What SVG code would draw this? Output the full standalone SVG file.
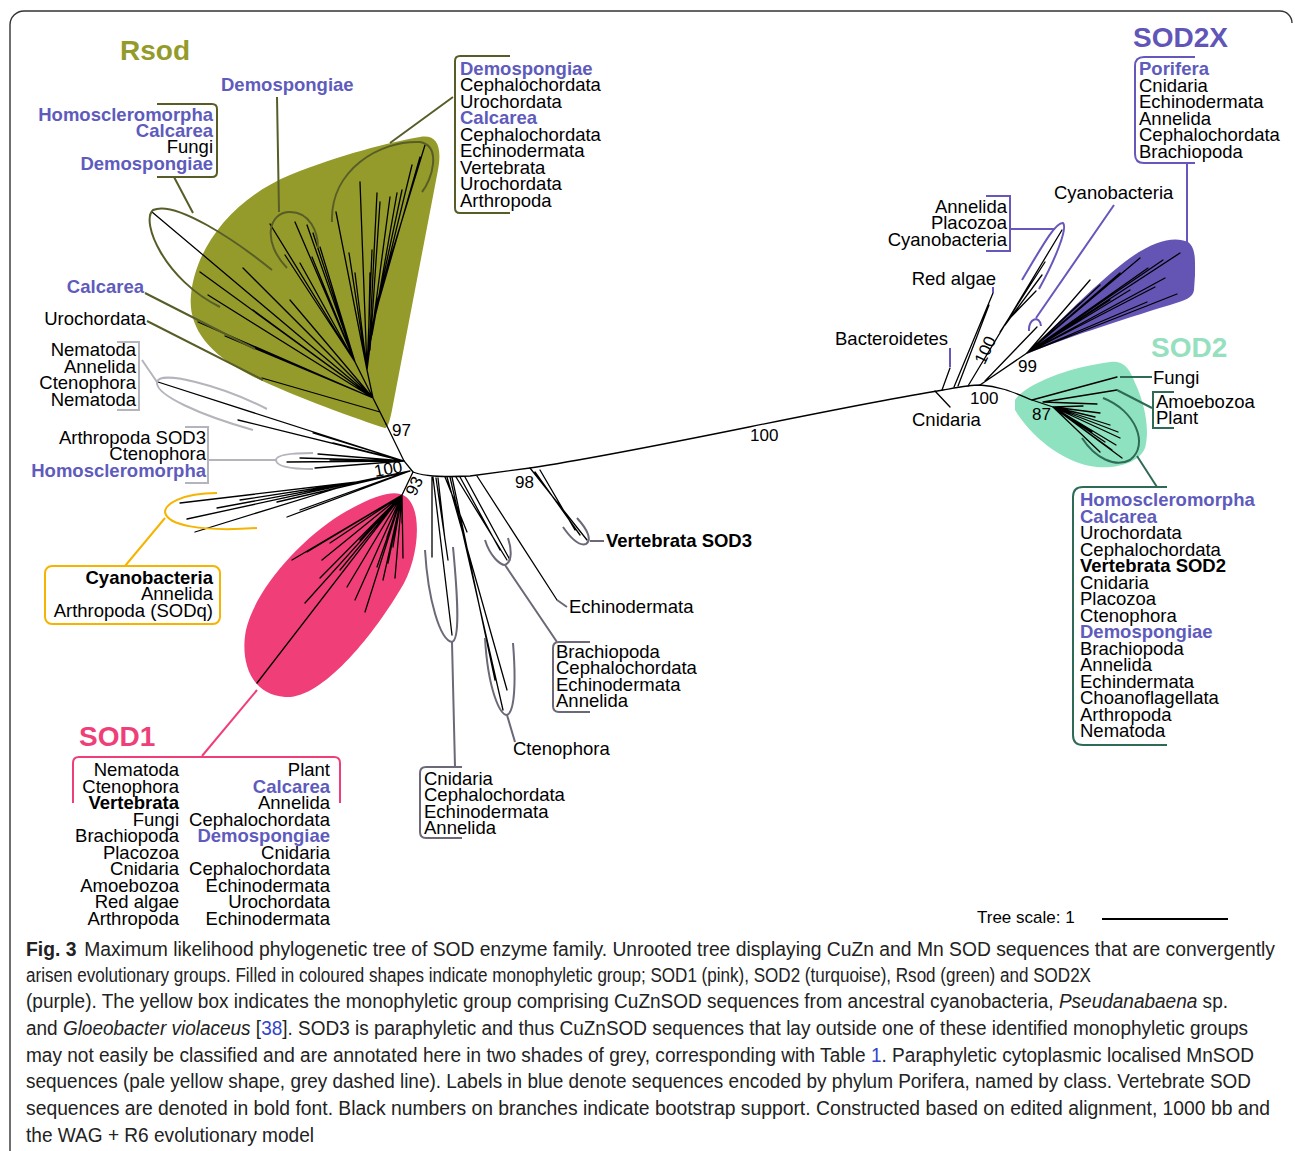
<svg xmlns="http://www.w3.org/2000/svg" width="1295" height="1151" viewBox="0 0 1295 1151">
<style>
.t{font-family:"Liberation Sans",Arial,sans-serif;font-size:18.5px;fill:#000}
.e{text-anchor:end}
.b{font-weight:bold}
.bl{fill:#5E5BBD;font-weight:bold}
.n{font-family:"Liberation Sans",Arial,sans-serif;font-size:17px;fill:#000}
.ttl{font-family:"Liberation Sans",Arial,sans-serif;font-size:28px;font-weight:bold}
.br{fill:none;stroke:#000;stroke-width:1.3;stroke-linecap:round}
.ol{fill:none;stroke:#585D28;stroke-width:2}
.lg{fill:none;stroke:#B4B4BC;stroke-width:2}
.dg{fill:none;stroke:#6C6878;stroke-width:2}
.pu{fill:none;stroke:#6557BC;stroke-width:2}
.gr{fill:none;stroke:#2F6A57;stroke-width:2}
.cap{font-family:"Liberation Sans Narrow","Liberation Sans",Arial,sans-serif;font-size:19.5px;fill:#222}
</style>
<rect width="1295" height="1151" fill="#fff"/>
<path d="M10,1151 V25 A14,14 0 0 1 24,11 H1280 A12,12 0 0 1 1292,23" fill="none" stroke="#333" stroke-width="1.4"/>

<!-- coloured clade shapes -->
<g id="rsod-shape"><path d="M385,428 C360,420 290,395 250,375 C205,352 188,325 191,295 C195,250 230,200 290,175 C340,155 390,142 420,137 C438,134 442,148 438,170 L392,410 C390,420 388,428 385,428 Z" fill="#949B2B"/></g>
<g id="sod2x-shape"><path d="M1027,354 C1060,320 1100,280 1130,258 C1155,240 1175,236 1188,242 C1196,248 1195,260 1195,275 L1194,290 C1193,298 1185,300 1170,305 C1120,320 1060,340 1027,354 Z" fill="#6455B5"/></g>
<g id="sod2-shape"><path d="M1015,400 C1025,385 1065,368 1110,362 C1125,360 1130,370 1136,385 C1145,405 1150,430 1145,448 C1138,465 1110,470 1090,466 C1060,460 1030,435 1015,410 Z" fill="#8EE2C0"/></g>
<g id="sod1-shape"><path d="M400,494 C425,500 420,560 400,590 C370,640 320,700 285,697 C250,695 240,660 246,630 C255,590 300,540 340,515 C370,497 390,491 400,494 Z" fill="#F03E79"/></g>

<!-- tree branches -->
<g id="connectors">
<path class="br" stroke-width="1.5" d="M386,424 L404,461 L413,472 M413,472 C425,477 445,477 470,476 L530,468 C650,450 820,410 943,390 C960,387 970,385 980,385 C1000,386 1015,393 1032,400 L1053,407"/>
<path class="br" d="M935,391 L950,407 M942,390 L950,368 M954,387 L993,293 M958,386 L989,305 M968,386 L1062,230 M1000,332 L1045,262 M1005,325 L1042,275 M1010,318 L1036,291 M985,381 L1037,327 M980,385 L1027,353"/>
<!-- SOD2X -->
<path class="br" d="M1027,353 L1140,258 M1027,353 L1180,253 M1027,353 L1163,260 M1027,353 L1177,294 M1027,353 L1147,302 M1027,353 L1120,273 M1027,353 L1080,303 M1027,353 L1100,285 M1027,353 L1130,290 M1027,353 L1155,287 M1027,353 L1110,300 M1027,353 L1090,280 M1027,353 L1165,278 M1027,353 L1148,268"/>
<!-- SOD2 -->
<path class="br" d="M1032,400 L1117,377 M1043,402 L1117,390 M1053,407 L1100,413 M1053,407 L1083,406 M1053,407 L1095,417 M1053,407 L1120,438 M1053,407 L1122,458 M1053,407 L1112,450 M1053,407 L1116,445 M1053,407 L1118,432 M1053,407 L1105,442 M1053,407 L1092,432 M1053,407 L1100,452 M1053,407 L1110,425 M1043,402 L1097,404"/>
<!-- Rsod -->
<path class="br" d="M386,424 L373,398 L367,370 L372,330 L376,305 M367,370 L336,212 M367,370 L360,182 M369,355 L377,193 M370,350 L380,202 M371,340 L390,197 M372,335 L397,193 M372,330 L402,190 M373,325 L412,165 M374,318 L420,157 M376,305 L425,145 M367,370 L372,250 M367,370 L349,253 M367,370 L355,273 M368,362 L370,273 M373,398 L355,362 M355,362 L270,224 M355,362 L295,222 M355,362 L307,225 M355,362 L313,233 M355,362 L285,255 M355,362 L300,263 M355,362 L312,257 M355,362 L320,247 M373,398 L152,212 M373,398 L200,272 M373,398 L208,295 M373,398 L243,268 M373,398 L253,310 M373,398 L198,322 M373,398 L250,345 M380,412 L262,378 M373,398 L225,336 M373,398 L290,300"/>
<!-- SOD1 -->
<path class="br" d="M413,472 L402,495 M402,495 L257,683 M402,495 L292,560 M402,495 L307,552 M402,495 L322,560 M402,495 L330,543 M402,495 L305,603 M402,495 L347,587 M402,495 L365,612 M402,495 L377,567 M402,495 L383,580 M402,495 L388,563 M402,495 L403,558 M402,495 L402,523 M402,495 L360,540 M402,495 L393,547 M402,495 L377,523 M402,495 L370,530 M402,495 L387,537 M402,495 L340,570 M402,495 L320,578 M402,495 L355,600 M402,495 L395,578"/>
<!-- cyanobacteria (SODq) and grey -->
<path class="br" d="M410,471 L357,482 M357,482 L180,503 M357,482 L187,519 M357,482 L195,532 M357,482 L217,508 M357,482 L240,500 M410,471 L287,517 M410,471 L277,502 M400,474 L300,510 M404,461 L158,382 M404,461 L238,420 M404,461 L313,433 M404,461 L333,443 M404,461 L347,447 M404,461 L318,454 M404,461 L287,462 M404,461 L315,468 M404,461 L300,458 M404,461 L330,460"/>
<path class="br" d="M432,477 L432,557 M433,477 L452,635 M436,478 L448,560 M438,478 L445,540 M445,477 L467,532 M447,477 L507,690 M450,477 L503,710 M452,477 L495,680 M456,477 L507,560 M460,477 L500,550 M465,477 L510,560 M477,476 L557,600 M530,468 L587,540 M535,472 L580,535 M540,470 L575,530"/>
<!-- annotation connectors -->
<path class="ol" d="M174,177 L193,213 M277,97 L279,212 M453,97 L390,143 M145,293 L255,349 M147,321 L263,380"/>
<path class="ol" d="M272,270 C235,240 175,200 153,210 C140,222 165,280 220,307 M287,268 C262,242 268,212 290,212 C310,212 318,232 318,248 M332,222 C330,170 380,140 420,142 C442,146 432,180 422,192"/>
<path class="lg" d="M142,360 L157,382 M267,409 C220,385 160,370 157,382 C155,395 200,415 253,430 M208,460 L276,460 M313,453 C290,453 276,455 276,460 C276,466 290,469 313,469"/>
<path fill="none" stroke="#F5B400" stroke-width="2" d="M125,566 L165,518 M217,493 C180,493 165,505 165,512 C167,525 200,532 257,528"/>
<path fill="none" stroke="#F03E79" stroke-width="2" d="M257,690 L202,756"/>
<path class="dg" d="M425,550 C428,600 440,640 452,642 C460,640 458,600 453,547 M452,642 L455,767 M485,638 C488,690 500,715 507,715 C515,712 516,680 513,643 M507,715 L515,742 M485,540 C490,556 500,565 505,565 C512,562 512,550 508,538 M505,565 L557,642 M563,527 C572,540 580,546 586,544 C592,540 588,530 577,518 M590,541 L604,541 M557,600 L567,607"/>
<path class="pu" d="M1187,163 L1187,242 M1010,229 L1055,229 M1022,280 C1040,250 1055,222 1063,223 C1068,228 1055,260 1039,289 M1036,318 L1114,205 M1029,331 C1028,318 1040,315 1041,326"/>
<path class="pu" stroke-width="2.5" d="M950,348 L950,367 M993,287 L993,293"/>
<path class="gr" d="M1120,377 L1152,377 M1117,390 L1152,408 M1103,398 C1135,410 1150,445 1130,460 C1115,468 1095,458 1082,438 M1137,456 L1157,487"/>
</g>

<!-- Rsod annotations -->
<g id="rsod">
<text class="ttl" x="120" y="60" fill="#949B2B">Rsod</text>
<text class="t bl" x="221" y="91">Demospongiae</text>
<path class="ol" d="M157,104 L212,104 Q217,104 217,109 L217,172 Q217,177 212,177 L157,177"/>
<text class="t e" x="213" y="121"><tspan class="bl">Homoscleromorpha</tspan></text>
<text class="t e bl" x="213" y="137">Calcarea</text>
<text class="t e" x="213" y="153">Fungi</text>
<text class="t e bl" x="213" y="170">Demospongiae</text>
<text class="t e bl" x="144" y="293">Calcarea</text>
<text class="t e" x="146" y="325">Urochordata</text>
<path class="ol" d="M510,56 L460,56 Q455,56 455,61 L455,208 Q455,213 460,213 L510,213"/>
<text class="t bl" x="460" y="75">Demospongiae</text>
<text class="t" x="460" y="91">Cephalochordata</text>
<text class="t" x="460" y="108">Urochordata</text>
<text class="t bl" x="460" y="124">Calcarea</text>
<text class="t" x="460" y="141">Cephalochordata</text>
<text class="t" x="460" y="157">Echinodermata</text>
<text class="t" x="460" y="174">Vertebrata</text>
<text class="t" x="460" y="190">Urochordata</text>
<text class="t" x="460" y="207">Arthropoda</text>
<text class="n" x="392" y="436">97</text>
</g>

<g id="grey-light">
<path class="lg" d="M117,342 L139,342 L139,410 L117,410"/>
<text class="t e" x="136" y="356">Nematoda</text>
<text class="t e" x="136" y="373">Annelida</text>
<text class="t e" x="136" y="389">Ctenophora</text>
<text class="t e" x="136" y="406">Nematoda</text>
<path class="lg" d="M185,427 L208,427 L208,483 L185,483"/>
<text class="t e" x="206" y="444">Arthropoda SOD3</text>
<text class="t e" x="206" y="460">Ctenophora</text>
<text class="t e bl" x="206" y="477">Homoscleromorpha</text>
<text class="n" x="374" y="475" font-size="15" transform="rotate(-10 386 469)">100</text>
<text class="n" x="414" y="492" font-size="15" text-anchor="middle" transform="rotate(-65 414 486)">93</text>
</g>

<g id="cyano-sodq">
<rect x="45" y="566" width="175" height="58" rx="7" fill="none" stroke="#F5B400" stroke-width="2"/>
<text class="t e b" x="213" y="584">Cyanobacteria</text>
<text class="t e" x="213" y="600">Annelida</text>
<text class="t e" x="213" y="617">Arthropoda (SODq)</text>
</g>

<g id="sod1">
<text class="ttl" x="79" y="746" fill="#EF3F78">SOD1</text>
<path fill="none" stroke="#F03E79" stroke-width="2" d="M73,803 L73,763 Q73,757 79,757 L334,757 Q340,757 340,763 L340,803"/>
<g class="t e">
<text class="t e" x="179" y="776">Nematoda</text>
<text class="t e" x="179" y="793">Ctenophora</text>
<text class="t e b" x="179" y="809">Vertebrata</text>
<text class="t e" x="179" y="826">Fungi</text>
<text class="t e" x="179" y="842">Brachiopoda</text>
<text class="t e" x="179" y="859">Placozoa</text>
<text class="t e" x="179" y="875">Cnidaria</text>
<text class="t e" x="179" y="892">Amoebozoa</text>
<text class="t e" x="179" y="908">Red algae</text>
<text class="t e" x="179" y="925">Arthropoda</text>
<text class="t e" x="330" y="776">Plant</text>
<text class="t e bl" x="330" y="793">Calcarea</text>
<text class="t e" x="330" y="809">Annelida</text>
<text class="t e" x="330" y="826">Cephalochordata</text>
<text class="t e bl" x="330" y="842">Demospongiae</text>
<text class="t e" x="330" y="859">Cnidaria</text>
<text class="t e" x="330" y="875">Cephalochordata</text>
<text class="t e" x="330" y="892">Echinodermata</text>
<text class="t e" x="330" y="908">Urochordata</text>
<text class="t e" x="330" y="925">Echinodermata</text>
</g>
</g>

<g id="grey-dark">
<path class="dg" d="M462,767 L426,767 Q420,767 420,773 L420,832 Q420,838 426,838 L462,838"/>
<text class="t" x="424" y="785">Cnidaria</text>
<text class="t" x="424" y="801">Cephalochordata</text>
<text class="t" x="424" y="818">Echinodermata</text>
<text class="t" x="424" y="834">Annelida</text>
<text class="t" x="513" y="755">Ctenophora</text>
<path class="dg" d="M590,642 L559,642 Q553,642 553,648 L553,706 Q553,712 559,712 L590,712"/>
<text class="t" x="556" y="658">Brachiopoda</text>
<text class="t" x="556" y="674">Cephalochordata</text>
<text class="t" x="556" y="691">Echinodermata</text>
<text class="t" x="556" y="707">Annelida</text>
<text class="t" x="569" y="613">Echinodermata</text>
<text class="t b" x="606" y="547">Vertebrata SOD3</text>
<text class="n" x="515" y="488">98</text>
<text class="n" x="750" y="441">100</text>
</g>

<g id="mn-basal">
<text class="t" x="835" y="345">Bacteroidetes</text>
<text class="t" x="912" y="426">Cnidaria</text>
<text class="t e" x="996" y="285">Red algae</text>
<text class="n" x="985" y="356" text-anchor="middle" transform="rotate(-65 985 350)">100</text>
<path class="pu" d="M986,196 L1010,196 L1010,251 L986,251"/>
<text class="t e" x="1007" y="213">Annelida</text>
<text class="t e" x="1007" y="229">Placozoa</text>
<text class="t e" x="1007" y="246">Cyanobacteria</text>
<text class="t" x="1054" y="199">Cyanobacteria</text>
<text class="n" x="1018" y="372">99</text>
<text class="n" x="970" y="404">100</text>
<text class="n" x="1032" y="420">87</text>
</g>

<g id="sod2x">
<text class="ttl" x="1133" y="47" fill="#6155B8">SOD2X</text>
<path class="pu" d="M1195,57 L1144,57 Q1135,57 1135,66 L1135,154 Q1135,163 1144,163 L1195,163"/>
<text class="t bl" x="1139" y="75">Porifera</text>
<text class="t" x="1139" y="92">Cnidaria</text>
<text class="t" x="1139" y="108">Echinodermata</text>
<text class="t" x="1139" y="125">Annelida</text>
<text class="t" x="1139" y="141">Cephalochordata</text>
<text class="t" x="1139" y="158">Brachiopoda</text>
</g>

<g id="sod2">
<text class="ttl" x="1151" y="357" fill="#95E0BF">SOD2</text>
<text class="t" x="1153" y="384">Fungi</text>
<path class="gr" d="M1174,392 L1153,392 L1153,428 L1174,428"/>
<text class="t" x="1156" y="408">Amoebozoa</text>
<text class="t" x="1156" y="424">Plant</text>
<path class="gr" d="M1167,487 L1083,487 Q1073,487 1073,497 L1073,735 Q1073,745 1083,745 L1167,745"/>
<text class="t bl" x="1080" y="506">Homoscleromorpha</text>
<text class="t bl" x="1080" y="523">Calcarea</text>
<text class="t" x="1080" y="539">Urochordata</text>
<text class="t" x="1080" y="556">Cephalochordata</text>
<text class="t b" x="1080" y="572">Vertebrata SOD2</text>
<text class="t" x="1080" y="589">Cnidaria</text>
<text class="t" x="1080" y="605">Placozoa</text>
<text class="t" x="1080" y="622">Ctenophora</text>
<text class="t bl" x="1080" y="638">Demospongiae</text>
<text class="t" x="1080" y="655">Brachiopoda</text>
<text class="t" x="1080" y="671">Annelida</text>
<text class="t" x="1080" y="688">Echindermata</text>
<text class="t" x="1080" y="704">Choanoflagellata</text>
<text class="t" x="1080" y="721">Arthropoda</text>
<text class="t" x="1080" y="737">Nematoda</text>
</g>

<g id="scale">
<text class="n" x="977" y="923">Tree scale: 1</text>
<path d="M1102,919 H1228" stroke="#000" stroke-width="2"/>
</g>

<g id="caption">
<text class="cap" x="26" y="956" textLength="1249" lengthAdjust="spacingAndGlyphs"><tspan font-weight="bold">Fig. 3</tspan><tspan dx="8">Maximum likelihood phylogenetic tree of SOD enzyme family. Unrooted tree displaying CuZn and Mn SOD sequences that are convergently</tspan></text>
<text class="cap" x="26" y="982" textLength="1065" lengthAdjust="spacingAndGlyphs">arisen evolutionary groups. Filled in coloured shapes indicate monophyletic group; SOD1 (pink), SOD2 (turquoise), Rsod (green) and SOD2X</text>
<text class="cap" x="26" y="1008" textLength="1202" lengthAdjust="spacingAndGlyphs">(purple). The yellow box indicates the monophyletic group comprising CuZnSOD sequences from ancestral cyanobacteria, <tspan font-style="italic">Pseudanabaena</tspan> sp.</text>
<text class="cap" x="26" y="1035" textLength="1222" lengthAdjust="spacingAndGlyphs">and <tspan font-style="italic">Gloeobacter violaceus</tspan> [<tspan fill="#3344CC">38</tspan>]. SOD3 is paraphyletic and thus CuZnSOD sequences that lay outside one of these identified monophyletic groups</text>
<text class="cap" x="26" y="1062" textLength="1228" lengthAdjust="spacingAndGlyphs">may not easily be classified and are annotated here in two shades of grey, corresponding with Table <tspan fill="#3344CC">1</tspan>. Paraphyletic cytoplasmic localised MnSOD</text>
<text class="cap" x="26" y="1088" textLength="1225" lengthAdjust="spacingAndGlyphs">sequences (pale yellow shape, grey dashed line). Labels in blue denote sequences encoded by phylum Porifera, named by class. Vertebrate SOD</text>
<text class="cap" x="26" y="1115" textLength="1244" lengthAdjust="spacingAndGlyphs">sequences are denoted in bold font. Black numbers on branches indicate bootstrap support. Constructed based on edited alignment, 1000 bb and</text>
<text class="cap" x="26" y="1142" textLength="288" lengthAdjust="spacingAndGlyphs">the WAG + R6 evolutionary model</text>
</g>
</svg>
